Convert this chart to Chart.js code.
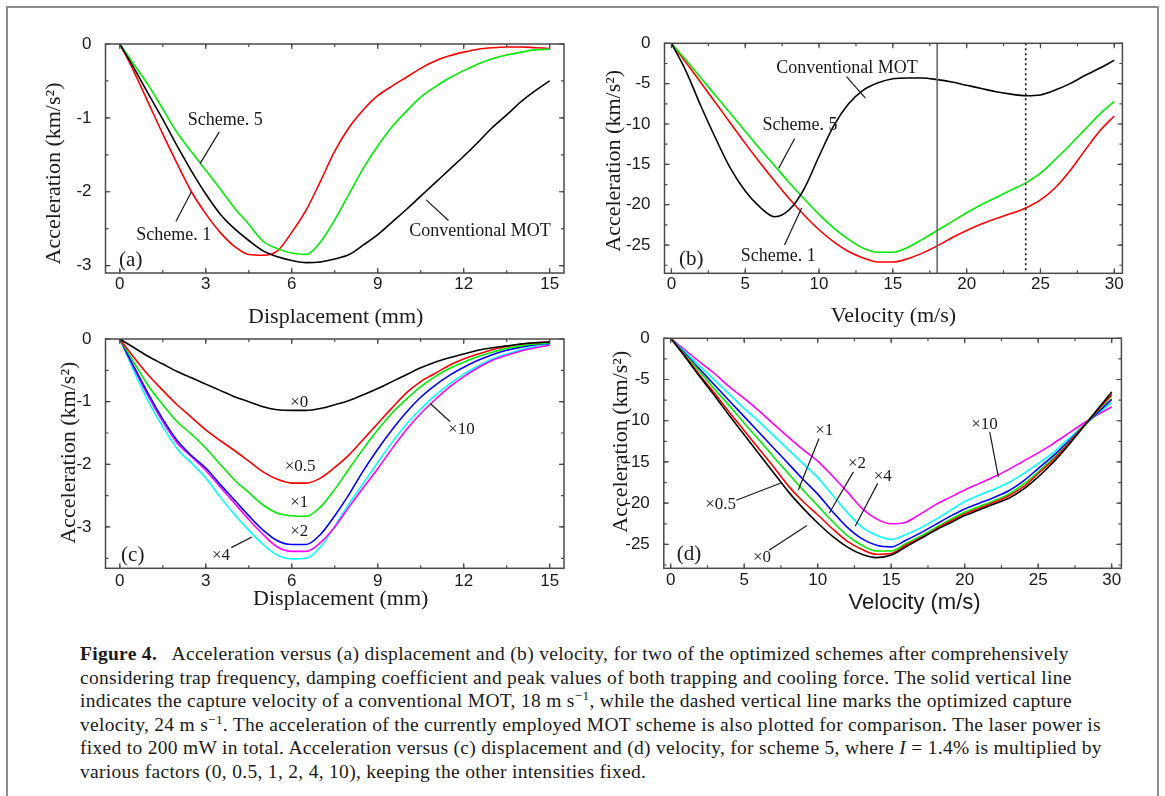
<!DOCTYPE html>
<html>
<head>
<meta charset="utf-8">
<script src="https://cdn.jsdelivr.net/npm/chart.js@4"></script>
<style>
  body { margin: 0; background: #fff; }
  #page { position: relative; width: 1165px; height: 796px; overflow: hidden; background: #fff; }
  #frame { position: absolute; left: 6px; top: 6px; width: 1153px; height: 900px; border: 2px solid #8c8c8c; box-sizing: border-box; }
  canvas { position: absolute; left: 0; top: 0; }
  #caption { position: absolute; left: 80px; top: 642px; font-family: "Liberation Serif", serif; font-size: 19.5px; letter-spacing: 0.3px; line-height: 23.5px; color: #1a1a1a; white-space: nowrap; }
  #caption sup { font-size: 0.68em; line-height: 0; vertical-align: 0.55em; }
</style>
</head>
<body>
<div id="page">
  <div id="frame"></div>
  <canvas id="chartA" width="1165" height="640"></canvas>
  <canvas id="chartB" width="1165" height="640"></canvas>
  <canvas id="chartC" width="1165" height="640"></canvas>
  <canvas id="chartD" width="1165" height="640"></canvas>
  <div id="caption">
    <b>Figure 4.</b>&nbsp;&nbsp; Acceleration versus (a) displacement and (b) velocity, for two of the optimized schemes after comprehensively<br>
    considering trap frequency, damping coefficient and peak values of both trapping and cooling force. The solid vertical line<br>
    indicates the capture velocity of a conventional MOT, 18 m s<sup>−1</sup>, while the dashed vertical line marks the optimized capture<br>
    velocity, 24 m s<sup>−1</sup>. The acceleration of the currently employed MOT scheme is also plotted for comparison. The laser power is<br>
    fixed to 200 mW in total. Acceleration versus (c) displacement and (d) velocity, for scheme 5, where <i>I</i> = 1.4% is multiplied by<br>
    various factors (0, 0.5, 1, 2, 4, 10), keeping the other intensities fixed.
  </div>
</div>
<script>
// x values
const displacement = [0, 0.5, 1, 1.5, 2, 2.5, 3, 3.5, 4, 4.5, 5, 5.5, 6, 6.5, 7, 7.5, 8, 8.5, 9, 9.5, 10, 10.5, 11, 11.5, 12, 12.5, 13, 13.5, 14, 14.5, 15];
const velocity = [0, 1, 2, 3, 4, 5, 6, 7, 8, 9, 10, 11, 12, 13, 14, 15, 16, 17, 18, 19, 20, 21, 22, 23, 24, 25, 26, 27, 28, 29, 30];

// (a) acceleration vs displacement, km/s^2
const accA_scheme1 = [0, -0.38, -0.80, -1.22, -1.62, -2.00, -2.30, -2.55, -2.74, -2.85, -2.86, -2.80, -2.55, -2.25, -1.86, -1.45, -1.13, -0.89, -0.70, -0.57, -0.45, -0.33, -0.23, -0.16, -0.11, -0.07, -0.05, -0.04, -0.04, -0.05, -0.06];
const accA_scheme5 = [0, -0.28, -0.56, -0.88, -1.20, -1.46, -1.71, -1.96, -2.22, -2.44, -2.67, -2.77, -2.83, -2.85, -2.68, -2.38, -2.03, -1.68, -1.38, -1.12, -0.91, -0.72, -0.58, -0.46, -0.36, -0.27, -0.20, -0.15, -0.11, -0.08, -0.07];
const accA_conv    = [0, -0.33, -0.68, -1.02, -1.38, -1.72, -2.03, -2.30, -2.50, -2.66, -2.80, -2.88, -2.93, -2.96, -2.95, -2.91, -2.85, -2.72, -2.58, -2.41, -2.24, -2.06, -1.88, -1.70, -1.52, -1.33, -1.13, -0.96, -0.78, -0.63, -0.50];

// (b) acceleration vs velocity
const accB_scheme1 = [0, -2.4, -4.9, -7.4, -9.9, -12.4, -14.8, -17.1, -19.3, -21.3, -23.1, -24.6, -25.8, -26.6, -27.1, -27.1, -26.7, -26.0, -25.1, -24.1, -23.2, -22.4, -21.7, -21.1, -20.4, -19.4, -17.9, -15.8, -13.3, -10.9, -9.0];
const accB_scheme5 = [0, -2.1, -4.3, -6.5, -8.7, -10.9, -13.1, -15.2, -17.3, -19.3, -21.2, -22.9, -24.3, -25.4, -25.9, -25.9, -25.3, -24.3, -23.2, -22.1, -21.0, -20.0, -19.1, -18.2, -17.3, -16.1, -14.4, -12.6, -10.7, -8.8, -7.2];
const accB_conv    = [0, -3.5, -7.8, -11.8, -15.5, -18.3, -20.3, -21.5, -20.6, -18.0, -14.0, -10.2, -7.5, -5.8, -4.9, -4.4, -4.3, -4.3, -4.5, -4.8, -5.2, -5.6, -6.0, -6.3, -6.5, -6.4, -5.8, -5.0, -4.0, -3.1, -2.1];
const captureConv = 18;   // m/s, solid line
const captureOpt = 24;    // m/s, dotted line

// (c) acceleration vs displacement for intensity factors
const accC_x0  = [0, -0.14, -0.28, -0.40, -0.52, -0.62, -0.72, -0.82, -0.92, -1.00, -1.08, -1.13, -1.14, -1.14, -1.11, -1.05, -0.98, -0.89, -0.79, -0.68, -0.57, -0.46, -0.37, -0.30, -0.24, -0.18, -0.14, -0.11, -0.08, -0.06, -0.05];
const accC_x05 = [0, -0.30, -0.58, -0.82, -1.05, -1.25, -1.45, -1.62, -1.78, -1.95, -2.12, -2.24, -2.30, -2.30, -2.22, -2.05, -1.85, -1.60, -1.35, -1.10, -0.86, -0.68, -0.55, -0.42, -0.32, -0.24, -0.17, -0.12, -0.08, -0.06, -0.05];
const accC_x1  = [0, -0.38, -0.75, -1.05, -1.32, -1.52, -1.74, -2.00, -2.25, -2.45, -2.65, -2.78, -2.82, -2.83, -2.68, -2.40, -2.07, -1.75, -1.45, -1.18, -0.96, -0.76, -0.60, -0.47, -0.37, -0.28, -0.21, -0.15, -0.11, -0.08, -0.06];
const accC_x2  = [0, -0.45, -0.88, -1.28, -1.62, -1.86, -2.06, -2.32, -2.57, -2.82, -3.05, -3.22, -3.28, -3.28, -3.12, -2.82, -2.48, -2.10, -1.76, -1.45, -1.17, -0.93, -0.74, -0.58, -0.45, -0.34, -0.25, -0.18, -0.13, -0.09, -0.07];
const accC_x4  = [0, -0.52, -1.00, -1.40, -1.75, -1.98, -2.22, -2.52, -2.80, -3.05, -3.28, -3.45, -3.51, -3.50, -3.32, -2.99, -2.63, -2.30, -1.97, -1.65, -1.36, -1.12, -0.90, -0.72, -0.56, -0.43, -0.32, -0.24, -0.17, -0.12, -0.09];
const accC_x10 = [0, -0.47, -0.92, -1.32, -1.66, -1.88, -2.10, -2.36, -2.62, -2.88, -3.12, -3.32, -3.39, -3.39, -3.25, -3.00, -2.68, -2.37, -2.07, -1.75, -1.45, -1.19, -0.97, -0.77, -0.60, -0.46, -0.34, -0.26, -0.19, -0.14, -0.10];

// (d) acceleration vs velocity for intensity factors
const accD_x0  = [0, -2.3, -4.7, -7.0, -9.4, -11.7, -14.0, -16.3, -18.6, -20.6, -22.4, -24.0, -25.3, -26.2, -26.6, -26.3, -25.3, -24.3, -23.3, -22.4, -21.5, -20.8, -20.1, -19.4, -18.3, -16.8, -15.1, -13.1, -10.9, -8.7, -6.5];
const accD_x05 = [0, -2.2, -4.5, -6.7, -9.0, -11.2, -13.4, -15.6, -17.9, -19.8, -21.4, -23.1, -24.6, -25.6, -26.2, -26.1, -25.1, -24.2, -23.2, -22.2, -21.3, -20.6, -19.9, -19.1, -18.0, -16.4, -14.8, -12.9, -10.8, -8.8, -6.8];
const accD_x1  = [0, -2.05, -4.1, -6.2, -8.2, -10.3, -12.3, -14.4, -16.4, -18.4, -20.3, -22.2, -23.9, -25.1, -25.8, -25.8, -24.9, -24.0, -23.0, -22.0, -21.1, -20.4, -19.7, -18.9, -17.7, -16.2, -14.6, -12.8, -10.8, -8.9, -7.0];
const accD_x2  = [0, -1.9, -3.8, -5.7, -7.6, -9.5, -11.4, -13.3, -15.2, -17.1, -18.9, -21.0, -22.9, -24.3, -25.1, -25.3, -24.5, -23.6, -22.6, -21.6, -20.7, -20.0, -19.3, -18.5, -17.3, -15.8, -14.3, -12.6, -10.8, -9.1, -7.4];
const accD_x4  = [0, -1.7, -3.4, -5.1, -6.8, -8.5, -10.1, -11.8, -13.5, -15.2, -16.9, -19.0, -21.1, -22.9, -23.9, -24.4, -23.8, -23.0, -22.0, -20.9, -19.8, -19.0, -18.3, -17.5, -16.4, -15.2, -13.9, -12.3, -10.7, -9.2, -7.8];
const accD_x10 = [0, -1.45, -2.9, -4.3, -5.9, -7.3, -8.8, -10.4, -12.0, -13.5, -14.9, -16.7, -18.6, -20.6, -21.9, -22.5, -22.3, -21.3, -20.2, -19.3, -18.4, -17.6, -16.8, -15.9, -14.9, -13.9, -12.8, -11.6, -10.4, -9.3, -8.3];

// tick labels
const ticksDisp = [0, 3, 6, 9, 12, 15];
const ticksVel = [0, 5, 10, 15, 20, 25, 30];
const ticksAccA = [0, -1, -2, -3];
const ticksAccB = [0, -5, -10, -15, -20, -25];

const SERIF = '"Liberation Serif", "Times New Roman", serif';
const SANS = '"Liberation Sans", Arial, sans-serif';
Chart.defaults.font.family = SANS;
const W = 1165, H = 640;

// frame with inward ticks on all four sides, leader lines and text labels
const panelPlugin = {
  id: 'panel',
  afterDatasetsDraw(chart, args, o) {
    const ctx = chart.ctx, a = chart.chartArea;
    const xs = chart.scales.x, ys = chart.scales.y;
    ctx.save();
    ctx.strokeStyle = '#4a4a4a';
    ctx.lineWidth = 1.5;
    ctx.strokeRect(a.left, a.top, a.right - a.left, a.bottom - a.top);
    ctx.lineWidth = 1.2;
    const drawX = (v, len) => {
      const p = xs.getPixelForValue(v);
      ctx.beginPath();
      ctx.moveTo(p, a.bottom); ctx.lineTo(p, a.bottom - len);
      ctx.moveTo(p, a.top); ctx.lineTo(p, a.top + len);
      ctx.stroke();
    };
    const drawY = (v, len) => {
      const p = ys.getPixelForValue(v);
      ctx.beginPath();
      ctx.moveTo(a.left, p); ctx.lineTo(a.left + len, p);
      ctx.moveTo(a.right, p); ctx.lineTo(a.right - len, p);
      ctx.stroke();
    };
    for (let v = 0; v <= xs.max + 1e-9; v += o.xMinor) drawX(v, 3);
    for (let v = 0; v >= ys.min - 1e-9; v -= o.yMinor) drawY(v, 3);
    o.xTicks.forEach(v => drawX(v, 5));
    o.yTicks.forEach(v => drawY(v, 5));

    // leader lines
    ctx.strokeStyle = '#1a1a1a';
    ctx.lineWidth = 1.2;
    (o.leaders || []).forEach(l => {
      ctx.beginPath();
      ctx.moveTo(xs.getPixelForValue(l[0]), ys.getPixelForValue(l[1]));
      ctx.lineTo(xs.getPixelForValue(l[2]), ys.getPixelForValue(l[3]));
      ctx.stroke();
    });
    // labels inside the plot
    ctx.fillStyle = '#1a1a1a';
    ctx.textAlign = 'center';
    ctx.textBaseline = 'middle';
    (o.labels || []).forEach(t => {
      ctx.font = (t.size || 17) + 'px ' + SERIF;
      ctx.fillText(t.text, xs.getPixelForValue(t.x), ys.getPixelForValue(t.y));
    });
    // axis titles
    ctx.font = o.xTitle.font;
    ctx.fillText(o.xTitle.text, (a.left + a.right) / 2 + o.xTitle.dx, a.bottom + o.xTitle.dy);
    ctx.translate(a.left - o.yTitle.dx, (a.top + a.bottom) / 2 + o.yTitle.dy);
    ctx.rotate(-Math.PI / 2);
    ctx.font = o.yTitle.font;
    ctx.fillText(o.yTitle.text, 0, 0);
    ctx.restore();
  }
};

function series(xs, ys, color, extra) {
  return Object.assign({
    data: xs.map((x, i) => ({ x: x, y: ys[i] })),
    borderColor: color,
    borderWidth: 1.6,
    pointRadius: 0,
    fill: false,
    cubicInterpolationMode: 'monotone'
  }, extra || {});
}

// area = page pixel box of the plot {left, right, top, bottom}
function makeChart(id, c) {
  const a = c.area, yW = 60, xH = 40;
  return new Chart(document.getElementById(id), {
    type: 'line',
    data: { datasets: c.datasets },
    plugins: [panelPlugin],
    options: {
      responsive: false,
      animation: false,
      events: [],
      layout: { padding: { left: a.left - yW, right: W - a.right, top: a.top, bottom: H - a.bottom - xH } },
      plugins: {
        legend: { display: false },
        tooltip: { enabled: false },
        panel: c.panel
      },
      scales: {
        x: {
          type: 'linear', min: c.xMin, max: c.xMax,
          grid: { display: false }, border: { display: false },
          afterFit: s => { s.height = xH; },
          afterBuildTicks: s => { s.ticks = c.panel.xTicks.map(v => ({ value: v })); },
          ticks: { autoSkip: false, maxRotation: 0, minRotation: 0, padding: c.xPad, color: '#1a1a1a', font: { size: 17 }, callback: v => String(v) }
        },
        y: {
          type: 'linear', min: c.yMin, max: 0,
          grid: { display: false }, border: { display: false },
          afterFit: s => { s.width = yW; },
          afterBuildTicks: s => { s.ticks = c.panel.yTicks.map(v => ({ value: v })); },
          ticks: { autoSkip: false, padding: 6, color: '#1a1a1a', font: { size: 17 }, callback: v => String(v) }
        }
      }
    }
  });
}

const accTitle = 'Acceleration (km/s\u00B2)';

makeChart('chartA', {
  area: { left: 105.5, right: 564, top: 44, bottom: 273 },
  xMin: -0.5, xMax: 15.5, yMin: -3.1, xPad: -7,
  datasets: [
    series(displacement, accA_conv, '#000000'),
    series(displacement, accA_scheme5, '#00ee00'),
    series(displacement, accA_scheme1, '#ff0000')
  ],
  panel: {
    xTicks: ticksDisp, yTicks: ticksAccA, xMinor: 1.5, yMinor: 0.5,
    labels: [
      { text: 'Scheme. 5', x: 3.68, y: -1.03, size: 18 },
      { text: 'Scheme. 1', x: 1.88, y: -2.59, size: 18 },
      { text: 'Conventional MOT', x: 12.57, y: -2.53, size: 18 },
      { text: '(a)', x: 0.38, y: -2.93, size: 21 }
    ],
    leaders: [[3.47, -1.19, 2.80, -1.62], [1.96, -2.40, 2.50, -2.0], [11.47, -2.39, 10.69, -2.11]],
    xTitle: { text: 'Displacement (mm)', font: '22px ' + SERIF, dx: 1, dy: 44 },
    yTitle: { text: accTitle, font: '22px ' + SERIF, dx: 51, dy: 15 }
  }
});

makeChart('chartB', {
  area: { left: 664.5, right: 1122.4, top: 43.3, bottom: 273.3 },
  xMin: -0.47, xMax: 30.55, yMin: -28.5, xPad: -7,
  datasets: [
    series([captureConv, captureConv], [0, -28.5], '#6a6a6a', { cubicInterpolationMode: 'default', borderWidth: 1.6 }),
    series([captureOpt, captureOpt], [0, -28.5], '#000000', { cubicInterpolationMode: 'default', borderWidth: 1.6, borderDash: [2, 3] }),
    series(velocity, accB_conv, '#000000'),
    series(velocity, accB_scheme5, '#00ee00'),
    series(velocity, accB_scheme1, '#ff0000')
  ],
  panel: {
    xTicks: ticksVel, yTicks: ticksAccB, xMinor: 2.5, yMinor: 2.5,
    labels: [
      { text: 'Conventional MOT', x: 11.9, y: -3.1, size: 18 },
      { text: 'Scheme. 5', x: 8.71, y: -10.1, size: 18 },
      { text: 'Scheme. 1', x: 7.24, y: -26.4, size: 18 },
      { text: '(b)', x: 1.35, y: -26.85, size: 21 }
    ],
    leaders: [[11.86, -4.14, 13.14, -6.8], [8.35, -11.8, 7.26, -15.5], [7.66, -25.0, 8.82, -20.4]],
    xTitle: { text: 'Velocity (m/s)', font: '22px ' + SERIF, dx: 0, dy: 43.4 },
    yTitle: { text: accTitle, font: '22px ' + SERIF, dx: 50, dy: 2.5 }
  }
});

makeChart('chartC', {
  area: { left: 105.5, right: 564, top: 339, bottom: 568.3 },
  xMin: -0.5, xMax: 15.5, yMin: -3.66, xPad: -5,
  datasets: [
    series(displacement, accC_x0, '#000000'),
    series(displacement, accC_x05, '#ff0000'),
    series(displacement, accC_x1, '#00ee00'),
    series(displacement, accC_x2, '#0000ff'),
    series(displacement, accC_x10, '#ff00ff'),
    series(displacement, accC_x4, '#00ffff')
  ],
  panel: {
    xTicks: ticksDisp, yTicks: ticksAccA, xMinor: 1.5, yMinor: 0.5,
    labels: [
      { text: '\u00D70', x: 6.26, y: -1.02 },
      { text: '\u00D70.5', x: 6.29, y: -2.04 },
      { text: '\u00D71', x: 6.26, y: -2.61 },
      { text: '\u00D72', x: 6.26, y: -3.07 },
      { text: '\u00D74', x: 3.53, y: -3.45 },
      { text: '\u00D710', x: 11.92, y: -1.44 },
      { text: '(c)', x: 0.45, y: -3.45, size: 21 }
    ],
    leaders: [[3.89, -3.33, 4.61, -3.16], [11.53, -1.32, 10.83, -1.03]],
    xTitle: { text: 'Displacement (mm)', font: '22px ' + SERIF, dx: 6, dy: 31 },
    yTitle: { text: accTitle, font: '22px ' + SERIF, dx: 36, dy: -1 }
  }
});

makeChart('chartD', {
  area: { left: 663.8, right: 1121.4, top: 338.3, bottom: 568.3 },
  xMin: -0.47, xMax: 30.66, yMin: -27.9, xPad: -6,
  datasets: [
    series(velocity, accD_x0, '#000000'),
    series(velocity, accD_x05, '#ff0000'),
    series(velocity, accD_x1, '#00ee00'),
    series(velocity, accD_x2, '#0000ff'),
    series(velocity, accD_x4, '#00ffff'),
    series(velocity, accD_x10, '#ff00ff')
  ],
  panel: {
    xTicks: ticksVel, yTicks: ticksAccB, xMinor: 2.5, yMinor: 2.5,
    labels: [
      { text: '\u00D71', x: 10.44, y: -11.14 },
      { text: '\u00D72', x: 12.67, y: -15.2 },
      { text: '\u00D74', x: 14.43, y: -16.8 },
      { text: '\u00D70.5', x: 3.4, y: -20.2 },
      { text: '\u00D70', x: 6.21, y: -26.6 },
      { text: '\u00D710', x: 21.35, y: -10.4 },
      { text: '(d)', x: 1.24, y: -26.25, size: 21 }
    ],
    leaders: [[10.09, -12.15, 8.68, -18.4], [12.43, -16.2, 10.79, -21.2], [14.08, -17.6, 12.55, -22.8],
              [4.46, -19.65, 7.5, -17.55], [6.69, -25.7, 9.27, -22.7], [21.7, -11.35, 22.29, -16.8]],
    xTitle: { text: 'Velocity (m/s)', font: '22px ' + SANS, dx: 22, dy: 35 },
    yTitle: { text: accTitle, font: '22px ' + SERIF, dx: 43, dy: -11.6 }
  }
});
</script>
</body>
</html>
